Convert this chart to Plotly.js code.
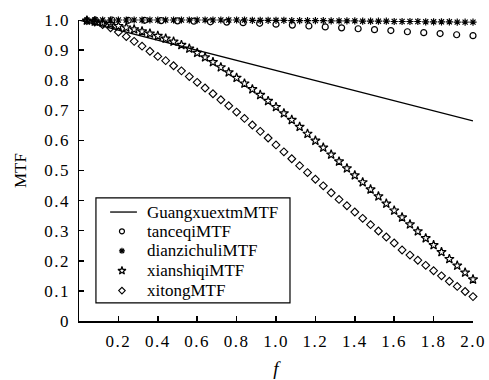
<!DOCTYPE html>
<html><head><meta charset="utf-8">
<script src="https://cdn.plot.ly/plotly-3.0.1.min.js"></script>
<style>html,body{margin:0;padding:0;background:#fff}#c{width:489px;height:380px}
.xtick text,.ytick text{letter-spacing:1.5px}</style>
</head><body><div id="c"></div>
<script>
const xLine = [0, 0.5, 1.0, 1.5, 2.0];
const yLine = [1.0, 0.916, 0.832, 0.748, 0.665];

const xCircle = [0.083,0.167,0.25,0.333,0.417,0.5,0.583,0.667,0.75,0.833,0.917,1.0,1.083,1.167,1.25,1.333,1.417,1.5,1.583,1.667,1.75,1.833,1.917,2.0];
const yCircle = [1.0,1.0,0.999,0.999,0.998,0.997,0.996,0.994,0.993,0.991,0.989,0.986,0.983,0.980,0.977,0.974,0.971,0.968,0.965,0.961,0.958,0.955,0.951,0.948];

const xFine = [0.04,0.08,0.12,0.16,0.20,0.24,0.28,0.32,0.36,0.40,0.44,0.48,0.52,0.56,0.60,0.64,0.68,0.72,0.76,0.80,0.84,0.88,0.92,0.96,1.00,1.04,1.08,1.12,1.16,1.20,1.24,1.28,1.32,1.36,1.40,1.44,1.48,1.52,1.56,1.60,1.64,1.68,1.72,1.76,1.80,1.84,1.88,1.92,1.96,2.00];
const yAsterisk = [1.0,1.0,1.0,1.0,1.0,1.0,1.0,1.0,1.0,1.0,1.0,1.0,1.0,1.0,1.0,1.0,1.0,1.0,1.0,1.0,1.0,0.999,0.999,0.999,0.999,0.999,0.998,0.998,0.998,0.998,0.998,0.997,0.997,0.997,0.997,0.996,0.996,0.996,0.996,0.995,0.995,0.995,0.995,0.994,0.994,0.994,0.994,0.993,0.993,0.993];
const yStar = [0.998,0.995,0.991,0.986,0.980,0.975,0.969,0.962,0.955,0.947,0.938,0.928,0.917,0.905,0.891,0.876,0.860,0.843,0.826,0.808,0.789,0.770,0.751,0.731,0.711,0.690,0.668,0.645,0.622,0.599,0.576,0.553,0.530,0.507,0.484,0.461,0.437,0.414,0.390,0.367,0.344,0.321,0.298,0.275,0.252,0.229,0.206,0.184,0.161,0.138];
const yDiamond = [0.998,0.993,0.985,0.974,0.960,0.945,0.929,0.913,0.896,0.879,0.865,0.848,0.831,0.812,0.793,0.774,0.755,0.735,0.715,0.694,0.673,0.651,0.630,0.608,0.585,0.562,0.539,0.516,0.493,0.471,0.449,0.426,0.404,0.383,0.362,0.341,0.320,0.299,0.279,0.259,0.236,0.219,0.202,0.185,0.167,0.150,0.132,0.115,0.098,0.081];

const names = ['GuangxuextmMTF','tanceqiMTF','dianzichuliMTF','xianshiqiMTF','xitongMTF'];
const xTicks = [0.2,0.4,0.6,0.8,1.0,1.2,1.4,1.6,1.8,2.0];
const xTickText = ['0.2','0.4','0.6','0.8','1.0','1.2','1.4','1.6','1.8','2.0'];
const yTicks = [0,0.1,0.2,0.3,0.4,0.5,0.6,0.7,0.8,0.9,1.0];
const yTickText = ['0','0.1','0.2','0.3','0.4','0.5','0.6','0.7','0.8','0.9','1.0'];

const F = 'Liberation Serif';
const symbols = [null, 'circle-open', 'asterisk-open', 'star-open', 'diamond-open'];
const sizes = [0, 6, 6, 7, 6];
const widths = [1.3, 1.2, 1.2, 1.2, 1.1];
const mk = (i, s) => ({symbol: symbols[i], size: s, color: 'black', line: {color: 'black', width: widths[i]}});

const traces = [
  {x: xLine, y: yLine, name: names[0], mode: 'lines', line: {color: 'black', width: widths[0]}, cliponaxis: false, showlegend: false},
  {x: xCircle, y: yCircle, name: names[1], mode: 'markers', marker: mk(1, sizes[1]), cliponaxis: false, showlegend: false},
  {x: xFine, y: yAsterisk, name: names[2], mode: 'markers', marker: mk(2, sizes[2]), cliponaxis: false, showlegend: false},
  {x: xFine, y: yStar, name: names[3], mode: 'markers', marker: mk(3, sizes[3]), cliponaxis: false, showlegend: false},
  {x: xFine, y: yDiamond, name: names[4], mode: 'markers', marker: mk(4, sizes[4]), cliponaxis: false, showlegend: false}
];

// Legend box (drawn with layout shapes/annotations, in plot-area fractions)
const LEG = {x0: 0.043, x1: 0.5355, y0: 0.06, y1: 0.409, symX: 0.109, lineX0: 0.079, lineX1: 0.147, textX: 0.1675,
  rows: [0.362, 0.298, 0.233, 0.167, 0.101]};
const shapes = [
  {type: 'rect', xref: 'paper', yref: 'paper', x0: LEG.x0, x1: LEG.x1, y0: LEG.y0, y1: LEG.y1,
    line: {color: 'black', width: 1.2}, fillcolor: 'rgba(0,0,0,0)', layer: 'above'},
  {type: 'line', xref: 'paper', yref: 'paper', x0: LEG.lineX0, x1: LEG.lineX1, y0: LEG.rows[0], y1: LEG.rows[0],
    line: {color: 'black', width: widths[0]}, layer: 'above'}
];
const annotations = names.map((n, i) => ({xref: 'paper', yref: 'paper', x: LEG.textX, y: LEG.rows[i], text: n,
  showarrow: false, xanchor: 'left', yanchor: 'middle', font: {family: F, size: 17, color: 'black'}}));
for (let i = 1; i < 5; i++) {
  traces.push({x: [LEG.symX], y: [LEG.rows[i]], xaxis: 'x2', yaxis: 'y2', mode: 'markers', showlegend: false,
    hoverinfo: 'skip', marker: mk(i, sizes[i] - 1), cliponaxis: false});
}

const layout = {
  width: 489, height: 380,
  margin: {l: 79, r: 16, t: 20, b: 59},
  paper_bgcolor: '#fff', plot_bgcolor: '#fff',
  font: {family: F, size: 17, color: 'black'},
  showlegend: false,
  shapes: shapes,
  annotations: annotations,
  xaxis: {range: [0, 2.0], tickvals: xTicks, ticktext: xTickText, ticks: 'inside', ticklen: 5, tickwidth: 1.5,
    tickcolor: 'black', showline: true, linecolor: 'black', linewidth: 1.5, showgrid: false, zeroline: false,
    ticklabelstandoff: 4, tickfont: {family: F, size: 17},
    title: {text: '<i>f</i>', font: {family: F, size: 19}, standoff: 12}},
  yaxis: {range: [0, 1.0], tickvals: yTicks, ticktext: yTickText, ticks: 'inside', ticklen: 5, tickwidth: 1.5,
    tickcolor: 'black', showline: true, linecolor: 'black', linewidth: 1.5, showgrid: false, zeroline: false,
    ticklabelstandoff: 4, tickfont: {family: F, size: 17}, title: {text: 'MTF', font: {family: F, size: 17}, standoff: 13}},
  xaxis2: {overlaying: 'x', range: [0, 1], visible: false, fixedrange: true},
  yaxis2: {overlaying: 'y', range: [0, 1], visible: false, fixedrange: true}
};
Plotly.newPlot('c', traces, layout, {displayModeBar: false, staticPlot: true});
</script></body></html>
